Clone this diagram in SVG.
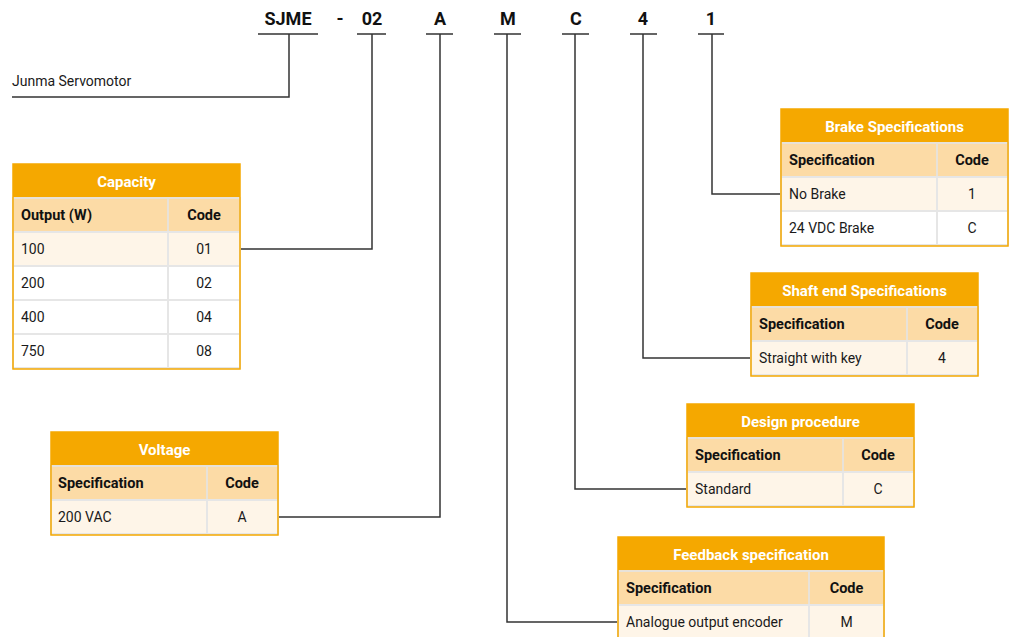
<svg xmlns="http://www.w3.org/2000/svg" width="1011" height="637" viewBox="0 0 1011 637">
<style>
text{font-family:Roboto,"Liberation Sans",sans-serif;font-size:14px;fill:#1a1a1a}
.code{font-size:18px;font-weight:bold;text-anchor:middle;fill:#111}
.title{fill:#ffffff;font-weight:bold;text-anchor:middle;font-size:15px}
.hd{font-weight:bold;fill:#111;font-size:14.5px}
.c{text-anchor:middle}
.tbar{fill:#f5a800}
.hrow{fill:#fcdba6;stroke:#e8e2d8;stroke-width:2}
.drow{fill:#ffffff;stroke:#e6e6e6;stroke-width:2}
.drow.t{fill:#fef5e8}
.frame{fill:none;stroke:#f5a800;stroke-width:1.5}
.ul{stroke:#333;stroke-width:1.5;fill:none}
.conn path{stroke:#333;stroke-width:1.5;fill:none}
</style>

<g id="model-code">
<text class="code" x="288" y="25">SJME</text>
<text class="code" x="340" y="25">-</text>
<text class="code" x="372" y="25">02</text>
<text class="code" x="440" y="25">A</text>
<text class="code" x="508" y="25">M</text>
<text class="code" x="576" y="25">C</text>
<text class="code" x="643" y="25">4</text>
<text class="code" x="711" y="25">1</text>
<path class="ul" d="M258 34H318M357 34H386M426 34H453M494 34H521M562 34H589M630 34H657M698 34H724"/>
</g>

<g id="junma">
<text x="12" y="86">Junma Servomotor</text>
</g>

<g class="conn" id="connectors">
<path d="M289 34V97H12"/>
<path d="M372 34V249H240"/>
<path d="M440 34V517H278"/>
<path d="M507 34V622H618"/>
<path d="M575 34V489H687"/>
<path d="M643 34V358H751"/>
<path d="M712 34V194H781"/>
</g>

<g id="capacity">
<rect class="tbar" x="13" y="164" width="227" height="34"/>
<rect class="hrow" x="13" y="198" width="155" height="34"/>
<rect class="hrow" x="168" y="198" width="72" height="34"/>
<rect class="drow t" x="13" y="232" width="155" height="34"/>
<rect class="drow t" x="168" y="232" width="72" height="34"/>
<rect class="drow" x="13" y="266" width="155" height="34"/>
<rect class="drow" x="168" y="266" width="72" height="34"/>
<rect class="drow" x="13" y="300" width="155" height="34"/>
<rect class="drow" x="168" y="300" width="72" height="34"/>
<rect class="drow" x="13" y="334" width="155" height="34"/>
<rect class="drow" x="168" y="334" width="72" height="34"/>
<rect class="frame" x="13" y="164" width="227" height="205"/>
<text class="title" x="126.5" y="186.5">Capacity</text>
<text class="hd" x="21" y="220">Output (W)</text>
<text class="hd c" x="204" y="220">Code</text>
<text x="21" y="254">100</text><text class="c" x="204" y="254">01</text>
<text x="21" y="288">200</text><text class="c" x="204" y="288">02</text>
<text x="21" y="322">400</text><text class="c" x="204" y="322">04</text>
<text x="21" y="356">750</text><text class="c" x="204" y="356">08</text>
</g>

<g id="voltage">
<rect class="tbar" x="51" y="432" width="227" height="34"/>
<rect class="hrow" x="51" y="466" width="156" height="34"/>
<rect class="hrow" x="207" y="466" width="71" height="34"/>
<rect class="drow t" x="51" y="500" width="156" height="34"/>
<rect class="drow t" x="207" y="500" width="71" height="34"/>
<rect class="frame" x="51" y="432" width="227" height="103"/>
<text class="title" x="164.5" y="454.5">Voltage</text>
<text class="hd" x="58" y="488">Specification</text>
<text class="hd c" x="242" y="488">Code</text>
<text x="58" y="522">200 VAC</text><text class="c" x="242" y="522">A</text>
</g>

<g id="brake">
<rect class="tbar" x="781" y="109" width="227" height="34"/>
<rect class="hrow" x="781" y="143" width="156" height="34"/>
<rect class="hrow" x="937" y="143" width="71" height="34"/>
<rect class="drow t" x="781" y="177" width="156" height="34"/>
<rect class="drow t" x="937" y="177" width="71" height="34"/>
<rect class="drow" x="781" y="211" width="156" height="34"/>
<rect class="drow" x="937" y="211" width="71" height="34"/>
<rect class="frame" x="781" y="109" width="227" height="137"/>
<text class="title" x="894.5" y="131.5">Brake Specifications</text>
<text class="hd" x="789" y="165">Specification</text>
<text class="hd c" x="972" y="165">Code</text>
<text x="789" y="199">No Brake</text><text class="c" x="972" y="199">1</text>
<text x="789" y="233">24 VDC Brake</text><text class="c" x="972" y="233">C</text>
</g>

<g id="shaft-end">
<rect class="tbar" x="751" y="273" width="227" height="34"/>
<rect class="hrow" x="751" y="307" width="156" height="34"/>
<rect class="hrow" x="907" y="307" width="71" height="34"/>
<rect class="drow t" x="751" y="341" width="156" height="34"/>
<rect class="drow t" x="907" y="341" width="71" height="34"/>
<rect class="frame" x="751" y="273" width="227" height="103"/>
<text class="title" x="864.5" y="295.5">Shaft end Specifications</text>
<text class="hd" x="759" y="329">Specification</text>
<text class="hd c" x="942" y="329">Code</text>
<text x="759" y="363">Straight with key</text><text class="c" x="942" y="363">4</text>
</g>

<g id="design-procedure">
<rect class="tbar" x="687" y="404" width="227" height="34"/>
<rect class="hrow" x="687" y="438" width="156" height="34"/>
<rect class="hrow" x="843" y="438" width="71" height="34"/>
<rect class="drow t" x="687" y="472" width="156" height="34"/>
<rect class="drow t" x="843" y="472" width="71" height="34"/>
<rect class="frame" x="687" y="404" width="227" height="103"/>
<text class="title" x="800.5" y="426.5">Design procedure</text>
<text class="hd" x="695" y="460">Specification</text>
<text class="hd c" x="878" y="460">Code</text>
<text x="695" y="494">Standard</text><text class="c" x="878" y="494">C</text>
</g>

<g id="feedback">
<rect class="tbar" x="618" y="537" width="266" height="34"/>
<rect class="hrow" x="618" y="571" width="191" height="34"/>
<rect class="hrow" x="809" y="571" width="75" height="34"/>
<rect class="drow t" x="618" y="605" width="191" height="34"/>
<rect class="drow t" x="809" y="605" width="75" height="34"/>
<rect class="frame" x="618" y="537" width="266" height="103"/>
<text class="title" x="751" y="559.5">Feedback specification</text>
<text class="hd" x="626" y="593">Specification</text>
<text class="hd c" x="846.5" y="593">Code</text>
<text x="626" y="627">Analogue output encoder</text><text class="c" x="846.5" y="627">M</text>
</g>
</svg>
